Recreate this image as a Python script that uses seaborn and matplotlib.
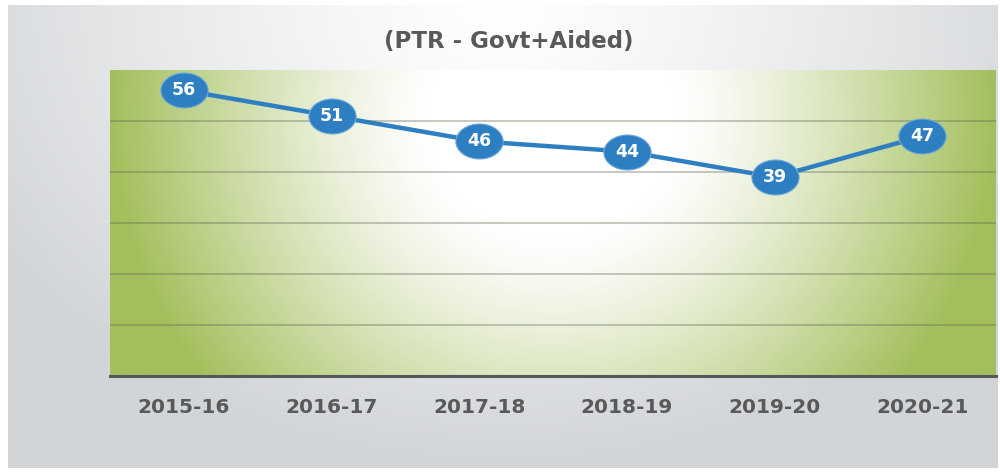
import numpy as np
import pandas as pd
import matplotlib
matplotlib.use("Agg")
import matplotlib.pyplot as plt
from matplotlib.path import Path
from matplotlib.colors import to_rgb
import seaborn as sns

# chart data
years = ["2015-16", "2016-17", "2017-18", "2018-19", "2019-20", "2020-21"]
ptr = [56, 51, 46, 44, 39, 47]
title = "(PTR - Govt+Aided)"

df = pd.DataFrame({"year": years, "ptr": ptr})

sns.set_theme(style="white")
plt.rcParams["font.family"] = ["DejaVu Sans"]

fig = plt.figure(figsize=(10, 4.72), dpi=100)
fig.patch.set_facecolor("white")

# outer gray panel with soft gradient
bg = fig.add_axes([0.008, 0.008, 0.99, 0.982])
bg.set_axis_off()
gx, gy = np.meshgrid(np.linspace(0, 1, 300), np.linspace(0, 1, 150))
d = np.sqrt(((gx - 0.5) / 0.6) ** 2 + ((gy - 1.0) / 1.0) ** 2)
t = np.clip(d, 0, 1) ** 1.2
c0 = np.array(to_rgb("#ffffff"))
c1 = np.array(to_rgb("#d2d5d8"))
img = c0 * (1 - t[..., None]) + c1 * t[..., None]
bg.imshow(img, extent=[0, 1, 0, 1], origin="lower", aspect="auto")
bg.set_xlim(0, 1)
bg.set_ylim(0, 1)

# plot area
ax = fig.add_axes([0.11, 0.2034, 0.886, 0.6483])
ax.set_facecolor("none")

px, py = np.meshgrid(np.linspace(0, 1, 400), np.linspace(0, 1, 200))
d2 = np.sqrt(((px - 0.5) / 0.5) ** 2 + ((py - 0.85) / 1.4) ** 2)
t2 = np.clip((d2 - 0.28) / 0.72, 0, 1) ** 1.25
g0 = np.array(to_rgb("#ffffff"))
g1 = np.array(to_rgb("#a3bf5c"))
img2 = g0 * (1 - t2[..., None]) + g1 * t2[..., None]
ax.imshow(img2, extent=[0, 1, 0, 1], origin="lower", aspect="auto",
          transform=ax.transAxes, zorder=0)

# elliptical marker
circ = Path.unit_circle()
ell = Path(circ.vertices * np.array([1.35, 1.0]), circ.codes)

sns.lineplot(data=df, x="year", y="ptr", sort=False, ax=ax,
             color="#2e7fc2", linewidth=3.2, marker=ell, markersize=34,
             markerfacecolor="#2e7fc2", markeredgecolor="#6fa8dc",
             markeredgewidth=0.8, zorder=3)

for i, v in enumerate(ptr):
    ax.text(i, v, str(v), ha="center", va="center", color="white",
            fontsize=12.5, fontweight="bold", zorder=4)

ax.set_xlim(-0.5, len(years) - 0.5)
ax.set_ylim(0, 60)
ax.set_yticks([10, 20, 30, 40, 50])
ax.set_yticklabels([])
ax.yaxis.grid(True, color="#5e6652", alpha=0.45, linewidth=1.1)
ax.set_axisbelow(False)
for ln in ax.get_ygridlines():
    ln.set_zorder(1)
ax.set_xlabel("")
ax.set_ylabel("")
ax.tick_params(axis="x", length=0, pad=16, labelsize=14.5, labelcolor="#595959")
ax.tick_params(axis="y", length=0)
for lbl in ax.get_xticklabels():
    lbl.set_fontweight("bold")

for s in ["top", "left", "right"]:
    ax.spines[s].set_visible(False)
ax.spines["bottom"].set_color("#55585a")
ax.spines["bottom"].set_linewidth(2.2)

fig.text(0.509, 0.913, title, ha="center", va="center", fontsize=16.5,
         fontweight="bold", color="#595959")

fig.savefig("out.png", dpi=100)
